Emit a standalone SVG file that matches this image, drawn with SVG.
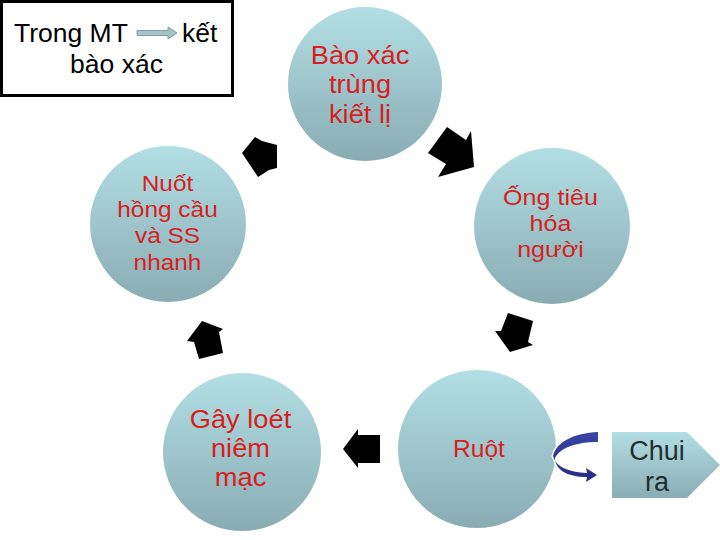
<svg xmlns="http://www.w3.org/2000/svg" width="720" height="540" viewBox="0 0 720 540">
<defs>
<linearGradient id="cg" x1="0" y1="0" x2="0" y2="1">
<stop offset="0" stop-color="#B2DFE4"/>
<stop offset="1" stop-color="#89ACB3"/>
</linearGradient>
<linearGradient id="bg" x1="0" y1="0" x2="0" y2="1">
<stop offset="0" stop-color="#3A46A6"/>
<stop offset="1" stop-color="#262C7E"/>
</linearGradient>
<style>
.c{fill:url(#cg)}
.t{font-family:"Liberation Sans",Arial,sans-serif;fill:#D81E1E;text-anchor:middle}
.k{font-family:"Liberation Sans",Arial,sans-serif;fill:#000}
.a{fill:#000}
</style>
</defs>
<rect width="720" height="540" fill="#fff"/>

<g id="box">
<rect x="1.5" y="1.5" width="231" height="94" fill="#fff" stroke="#000" stroke-width="3"/>
<text class="k" x="14" y="42" font-size="26.5">Trong MT</text>
<text class="k" x="182" y="42" font-size="26.5">kết</text>
<text class="k" x="116.5" y="73" font-size="26.5" text-anchor="middle">bào xác</text>
<path d="M137,30.5 H168 V27 L177,33 L168,39 V35.5 H137 Z" fill="#A5C3C8" stroke="#7D9CA4" stroke-width="1"/>
</g>

<g id="n1">
<circle class="c" cx="365" cy="84" r="77"/>
<g transform="translate(360 0) scale(1.07 1)" class="t" font-size="25.5">
<text class="t" x="0" y="64">Bào xác</text>
<text class="t" x="0" y="93.5">trùng</text>
<text class="t" x="0" y="123">kiết lị</text>
</g>
</g>

<g id="n2">
<circle class="c" cx="552" cy="226" r="78"/>
<g transform="translate(550.5 0) scale(1.14 1)" font-size="22">
<text class="t" x="0" y="205">Ống tiêu</text>
<text class="t" x="0" y="231">hóa</text>
<text class="t" x="0" y="257">người</text>
</g>
</g>

<g id="n3">
<circle class="c" cx="477" cy="449" r="79"/>
<text class="t" x="479" y="457" font-size="24.5">Ruột</text>
</g>

<g id="n4">
<circle class="c" cx="242" cy="452" r="79"/>
<g transform="translate(240.5 0) scale(1.07 1)" font-size="25.5">
<text class="t" x="0" y="428">Gây loét</text>
<text class="t" x="0" y="457">niêm</text>
<text class="t" x="0" y="486">mạc</text>
</g>
</g>

<g id="n5">
<circle class="c" cx="168" cy="224" r="78"/>
<g transform="translate(167.5 0) scale(1.11 1)" font-size="22">
<text class="t" x="0" y="191">Nuốt</text>
<text class="t" x="0" y="217">hồng cầu</text>
<text class="t" x="0" y="243.5">và SS</text>
<text class="t" x="0" y="270">nhanh</text>
</g>
</g>

<g id="n6">
<path d="M612,432 H687 L720,465 L687,498 H612 Z" fill="url(#cg)"/>
<text x="657" y="460" font-size="27" font-family="Liberation Sans, Arial, sans-serif" fill="#1E3030" text-anchor="middle">Chui</text>
<text x="657" y="491" font-size="27" font-family="Liberation Sans, Arial, sans-serif" fill="#1E3030" text-anchor="middle">ra</text>
</g>

<g id="connectors">
<polygon class="a" points="242,153 255,137 262,141 277,145 277,168 269,170 258,177"/>
<polygon class="a" points="428,153 447,127 466,140 471,131 474,167 438,177 446,164"/>
<polygon class="a" points="508,313 533,321 528,342 533,345 510,352 495,331 501,331"/>
<polygon class="a" points="380,435 380,463 358,463 358,468 343,449 358,429 358,435"/>
<polygon class="a" points="194,342 187,341 202,321 223,329 219,332 223,353 199,359"/>
<path d="M598,432 C574,433 556,442 553,456 C556,467 568,472 587,473 L586,468 L597,475 L586,482 L587,477 C566,477 555,469 555,458 C560,448 576,442 598,442 Z" fill="url(#bg)" stroke="#fff" stroke-width="3" stroke-linejoin="round" paint-order="stroke"/>
</g>
</svg>
